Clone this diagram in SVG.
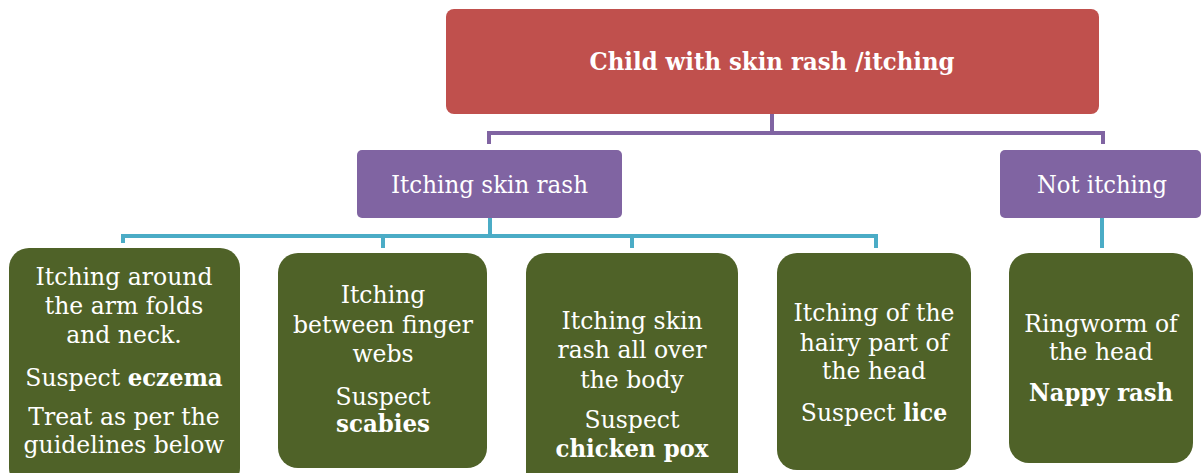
<svg xmlns="http://www.w3.org/2000/svg" width="1203" height="473" viewBox="0 0 1203 473">
<style>
.t{font-family:"DejaVu Serif","Liberation Serif",serif;font-size:23.5px;fill:#FFFFFF;text-anchor:middle}
.b{font-weight:bold}
.root{fill:#C0504D}
.mid{fill:#8064A2}
.leaf{fill:#4F6228}
.cp{fill:none;stroke:#8064A2;stroke-width:4}
.ct{fill:none;stroke:#4BACC6;stroke-width:4}
</style>
<rect width="1203" height="473" fill="#FFFFFF"/>
<g id="connectors">
<path class="cp" d="M772,114 V133 M489,144 V133 H1103 V144"/>
<path class="ct" d="M490,218 V236 M123,243 V236 H876 V248 M383,236 V248 M632,236 V248"/>
<path class="ct" d="M1102,218 V248"/>
</g>
<g id="root">
<rect class="root" x="446" y="9" width="653" height="105" rx="8"/>
<text class="t b" x="772" y="70" style="font-size:24px" textLength="365" lengthAdjust="spacingAndGlyphs">Child with skin rash /itching</text>
</g>
<g id="itching">
<rect class="mid" x="357" y="150" width="265" height="68" rx="5"/>
<text class="t" x="489.5" y="193" textLength="197" lengthAdjust="spacingAndGlyphs">Itching skin rash</text>
</g>
<g id="notitching">
<rect class="mid" x="1000" y="150" width="201" height="68" rx="5"/>
<text class="t" x="1102" y="193" textLength="130" lengthAdjust="spacingAndGlyphs">Not itching</text>
</g>
<g id="eczema">
<rect class="leaf" x="9" y="248" width="231" height="240" rx="20"/>
<text class="t" x="124" y="285">Itching around</text>
<text class="t" x="124" y="314">the arm folds</text>
<text class="t" x="124" y="343">and neck.</text>
<text class="t" x="124" y="386">Suspect <tspan class="b" textLength="95" lengthAdjust="spacingAndGlyphs">eczema</tspan></text>
<text class="t" x="124" y="425">Treat as per the</text>
<text class="t" x="124" y="453">guidelines below</text>
</g>
<g id="scabies">
<rect class="leaf" x="278" y="253" width="209" height="215" rx="20"/>
<text class="t" x="383" y="303">Itching</text>
<text class="t" x="383" y="333">between finger</text>
<text class="t" x="383" y="362">webs</text>
<text class="t" x="383" y="405">Suspect</text>
<text class="t b" x="383" y="432" textLength="94" lengthAdjust="spacingAndGlyphs">scabies</text>
</g>
<g id="chickenpox">
<rect class="leaf" x="526" y="253" width="212" height="240" rx="20"/>
<text class="t" x="632" y="329">Itching skin</text>
<text class="t" x="632" y="358">rash all over</text>
<text class="t" x="632" y="388">the body</text>
<text class="t" x="632" y="428">Suspect</text>
<text class="t b" x="632" y="457" textLength="153" lengthAdjust="spacingAndGlyphs">chicken pox</text>
</g>
<g id="lice">
<rect class="leaf" x="777" y="253" width="194" height="217" rx="20"/>
<text class="t" x="874" y="321">Itching of the</text>
<text class="t" x="874" y="351">hairy part of</text>
<text class="t" x="874" y="379">the head</text>
<text class="t" x="874" y="421">Suspect <tspan class="b" textLength="44" lengthAdjust="spacingAndGlyphs">lice</tspan></text>
</g>
<g id="ringworm">
<rect class="leaf" x="1009" y="253" width="184" height="210" rx="20"/>
<text class="t" x="1101" y="332">Ringworm of</text>
<text class="t" x="1101" y="360">the head</text>
<text class="t b" x="1101" y="401" textLength="144" lengthAdjust="spacingAndGlyphs">Nappy rash</text>
</g>
</svg>
